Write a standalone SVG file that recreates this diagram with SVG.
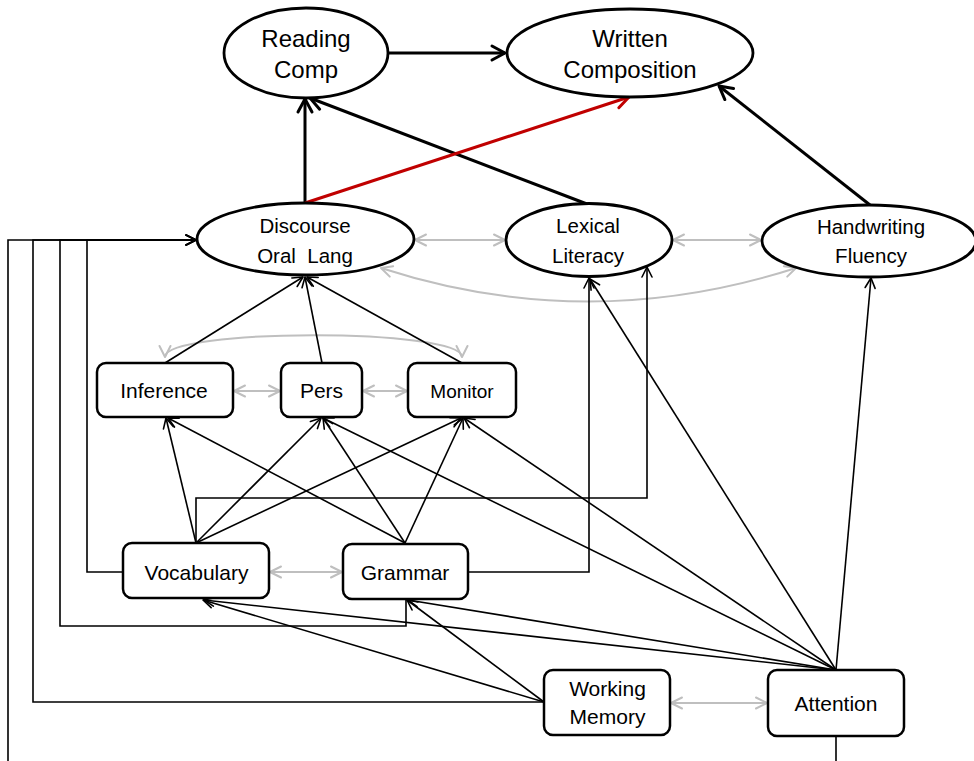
<svg xmlns="http://www.w3.org/2000/svg" width="974" height="761" viewBox="0 0 974 761">
  <style>
    .ell { fill: #fff; stroke: #000; stroke-width: 2.8; }
    .box { fill: #fff; stroke: #000; stroke-width: 2.5; }
    .lbl { font-family: "Liberation Sans", Arial, sans-serif; fill: #000; text-anchor: middle; white-space: pre; }
    .big { font-size: 24px; }
    .mid { font-size: 20.5px; }
    .sm { font-size: 21px; }
    .thick { fill: none; stroke: #000; stroke-width: 3; marker-end: url(#headThick); }
    .red { fill: none; stroke: #c00000; stroke-width: 3; marker-end: url(#headRed); }
    .thin { fill: none; stroke: #000; stroke-width: 1.6; marker-end: url(#headThin); }
    .gray { fill: none; stroke: #bfbfbf; stroke-width: 2; marker-start: url(#headGray); marker-end: url(#headGray); }
  </style>
  <defs>
    <marker id="headThick" markerUnits="userSpaceOnUse" markerWidth="30" markerHeight="30" refX="0" refY="0" orient="auto" overflow="visible">
      <path d="M-13,-7 L0,0 L-13,7" fill="none" stroke="#000" stroke-width="3" stroke-linejoin="round" stroke-linecap="round"/>
    </marker>
    <marker id="headRed" markerUnits="userSpaceOnUse" markerWidth="30" markerHeight="30" refX="0" refY="0" orient="auto" overflow="visible">
      <path d="M-13,-7 L0,0 L-13,7" fill="none" stroke="#c00000" stroke-width="3" stroke-linejoin="round" stroke-linecap="round"/>
    </marker>
    <marker id="headThin" markerUnits="userSpaceOnUse" markerWidth="20" markerHeight="20" refX="0" refY="0" orient="auto" overflow="visible">
      <path d="M-10,-5 L0,0 L-10,5" fill="none" stroke="#000" stroke-width="1.6" stroke-linejoin="round" stroke-linecap="round"/>
    </marker>
    <marker id="headGray" markerUnits="userSpaceOnUse" markerWidth="20" markerHeight="20" refX="0" refY="0" orient="auto-start-reverse" overflow="visible">
      <path d="M-11,-5.5 L0,0 L-11,5.5" fill="none" stroke="#bfbfbf" stroke-width="2" stroke-linejoin="round" stroke-linecap="round"/>
    </marker>
  </defs>

  <rect x="0" y="0" width="974" height="761" fill="#fff"/>

  <g id="connectors">
    <!-- upper level paths -->
    <path class="thick" d="M388 53 L505 53"/>
    <path class="thick" d="M305 203 L305 99"/>
    <path class="thick" d="M587 204 L310 98"/>
    <path class="thick" d="M870 205 L719 86"/>
    <path class="red" d="M305 203 L629 97"/>

    <!-- reciprocal links -->
    <path class="gray" d="M415 240 L505 240"/>
    <path class="gray" d="M673 240 L761 240"/>
    <path class="gray" d="M381 268 Q588 335 796 268"/>
    <path class="gray" d="M165 357 C165 328 462 328 462 357"/>
    <path class="gray" d="M234 391 L280 391"/>
    <path class="gray" d="M363 391 L407 391"/>
    <path class="gray" d="M270 572 L342 572"/>
    <path class="gray" d="M671 703 L767 703"/>

    <!-- comprehension skills to discourse -->
    <path class="thin" d="M165 363 L303 277"/>
    <path class="thin" d="M322 363 L305 277"/>
    <path class="thin" d="M462 363 L307 277"/>

    <!-- vocabulary -->
    <path class="thin" d="M196 543 L166 418"/>
    <path class="thin" d="M196 543 L321 418"/>
    <path class="thin" d="M196 543 L461 418"/>
    <path class="thin" d="M196 543 V498 H647 V267"/>

    <!-- grammar -->
    <path class="thin" d="M405 543 L168 418"/>
    <path class="thin" d="M405 543 L323 418"/>
    <path class="thin" d="M405 543 L463 418"/>
    <path class="thin" d="M468 572 H589 V278"/>

    <!-- left-hand feeds into discourse -->
    <path class="thin" d="M123 572 H87 V240 H196"/>
    <path class="thin" d="M406 599 V626 H60 V240 H196"/>
    <path class="thin" d="M544 702 H33 V240 H196"/>
    <path class="thin" d="M836 736 V775 H8 V240 H196"/>

    <!-- working memory -->
    <path class="thin" d="M544 702 L203 600"/>
    <path class="thin" d="M544 702 L407 600"/>

    <!-- attention -->
    <path class="thin" d="M836 670 L204 600"/>
    <path class="thin" d="M836 670 L408 600"/>
    <path class="thin" d="M836 670 L323 418"/>
    <path class="thin" d="M836 670 L464 418"/>
    <path class="thin" d="M836 670 L590 279"/>
    <path class="thin" d="M836 670 L871 278"/>
  </g>

  <g id="reading-comp">
    <ellipse class="ell" cx="306" cy="53" rx="82" ry="45"/>
    <text class="lbl big" x="306" y="47">Reading</text>
    <text class="lbl big" x="306" y="78">Comp</text>
  </g>
  <g id="written-composition">
    <ellipse class="ell" cx="630" cy="53" rx="123" ry="44"/>
    <text class="lbl big" x="630" y="47">Written</text>
    <text class="lbl big" x="630" y="78">Composition</text>
  </g>
  <g id="discourse-oral-lang">
    <ellipse class="ell" cx="305.5" cy="239" rx="108.5" ry="36"/>
    <text class="lbl mid" x="305" y="233">Discourse</text>
    <text class="lbl mid" x="305" y="263">Oral  Lang</text>
  </g>
  <g id="lexical-literacy">
    <ellipse class="ell" cx="589" cy="240" rx="83" ry="36.5"/>
    <text class="lbl mid" x="588" y="233">Lexical</text>
    <text class="lbl mid" x="588" y="263">Literacy</text>
  </g>
  <g id="handwriting-fluency">
    <ellipse class="ell" cx="869" cy="241" rx="107" ry="36"/>
    <text class="lbl mid" x="871" y="234">Handwriting</text>
    <text class="lbl mid" x="871" y="263">Fluency</text>
  </g>

  <g id="inference">
    <rect class="box" x="97" y="363" width="136" height="54" rx="9"/>
    <text class="lbl sm" x="164" y="398">Inference</text>
  </g>
  <g id="pers">
    <rect class="box" x="281" y="363" width="81" height="54" rx="9"/>
    <text class="lbl sm" x="321.5" y="398">Pers</text>
  </g>
  <g id="monitor">
    <rect class="box" x="408" y="363" width="108" height="54" rx="9"/>
    <text class="lbl" x="462" y="397.5" style="font-size:19px">Monitor</text>
  </g>

  <g id="vocabulary">
    <rect class="box" x="123" y="543" width="146" height="55" rx="9"/>
    <text class="lbl sm" x="196.5" y="580">Vocabulary</text>
  </g>
  <g id="grammar">
    <rect class="box" x="343" y="544" width="125" height="55" rx="9"/>
    <text class="lbl sm" x="405" y="580">Grammar</text>
  </g>

  <g id="working-memory">
    <rect class="box" x="544" y="670" width="126" height="65" rx="9"/>
    <text class="lbl sm" x="607.5" y="696">Working</text>
    <text class="lbl sm" x="607.5" y="724">Memory</text>
  </g>
  <g id="attention">
    <rect class="box" x="768" y="670" width="136" height="66" rx="9"/>
    <text class="lbl sm" x="836" y="711">Attention</text>
  </g>
</svg>
